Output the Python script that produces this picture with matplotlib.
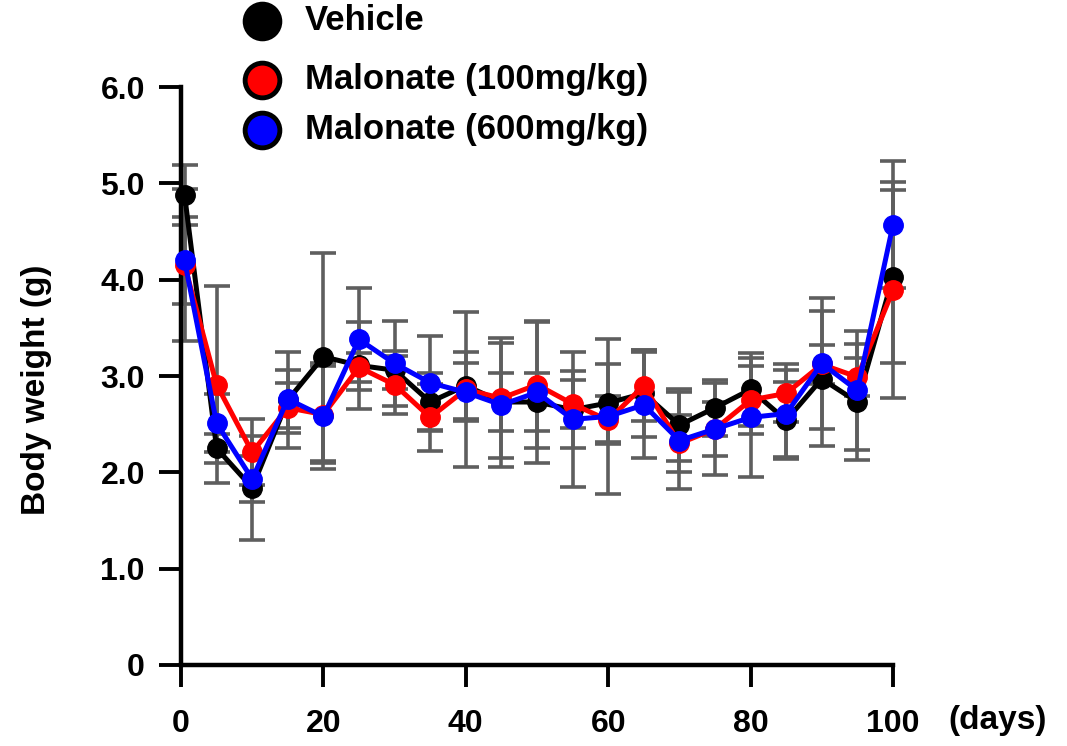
import matplotlib
matplotlib.use("Agg")
import matplotlib.pyplot as plt
from matplotlib.lines import Line2D

# Body weight over time, mean +/- SD
days = [0.5, 5, 10, 15, 20, 25, 30, 35, 40, 45, 50, 55, 60, 65, 70, 75, 80, 85, 90, 95, 100]

vehicle = [4.88, 2.25, 1.84, 2.75, 3.20, 3.11, 3.06, 2.73, 2.90, 2.73, 2.73, 2.65, 2.72,
           2.82, 2.49, 2.67, 2.86, 2.54, 2.97, 2.73, 4.03]
vehicle_sd = [0.31, 0.15, 0.54, 0.50, 1.08, 0.45, 0.20, 0.30, 0.35, 0.30, 0.30, 0.40, 0.40,
              0.45, 0.37, 0.29, 0.38, 0.40, 0.70, 0.60, 0.90]

mal100 = [4.15, 2.91, 2.21, 2.67, 2.60, 3.09, 2.91, 2.57, 2.86, 2.77, 2.91, 2.71, 2.54,
          2.90, 2.30, 2.45, 2.75, 2.82, 3.12, 2.99, 3.89]
mal100_sd = [0.79, 1.02, 0.34, 0.26, 0.50, 0.15, 0.30, 0.35, 0.80, 0.62, 0.66, 0.25, 0.25,
             0.37, 0.30, 0.28, 0.35, 0.30, 0.20, 0.20, 1.12]

mal600 = [4.20, 2.51, 1.93, 2.76, 2.58, 3.38, 3.13, 2.93, 2.83, 2.70, 2.83, 2.55, 2.58,
          2.70, 2.33, 2.45, 2.57, 2.61, 3.13, 2.85, 4.57]
mal600_sd = [0.45, 0.30, 0.24, 0.30, 0.55, 0.53, 0.44, 0.49, 0.30, 0.64, 0.73, 0.70, 0.80,
             0.55, 0.50, 0.48, 0.62, 0.45, 0.68, 0.62, 0.66]

labels = ["Vehicle", "Malonate (100mg/kg)", "Malonate (600mg/kg)"]
colors = ["#000000", "#ff0000", "#0000ff"]

y_ticks = [0, 1, 2, 3, 4, 5, 6]
y_tick_labels = ["0", "1.0", "2.0", "3.0", "4.0", "5.0", "6.0"]
x_ticks = [0, 20, 40, 60, 80, 100]

plt.rcParams['font.family'] = ['Liberation Sans', 'DejaVu Sans']
plt.rcParams['font.weight'] = 'bold'

W, H = 1067, 746
fig = plt.figure(figsize=(W / 100, H / 100), dpi=100)
ax = fig.add_axes([181 / W, 81 / H, 712 / W, 578 / H])

series = [(vehicle, vehicle_sd), (mal100, mal100_sd), (mal600, mal600_sd)]

# error bars first, all grey, behind the lines
for vals, sd in series:
    ax.errorbar(days, vals, yerr=sd, fmt='none', ecolor='#5e5e5e', elinewidth=2.6,
                capsize=9.5, capthick=2.6, zorder=2, clip_on=False)

for (vals, sd), c in zip(series, colors):
    ax.plot(days, vals, color=c, linewidth=3.6, marker='o', markersize=14,
            zorder=3, clip_on=False)

ax.set_xlim(0, 100)
ax.set_ylim(0, 6)
ax.set_xticks(x_ticks)
ax.set_yticks(y_ticks)
ax.set_yticklabels(y_tick_labels)
for side in ['top', 'right']:
    ax.spines[side].set_visible(False)
for side in ['left', 'bottom']:
    ax.spines[side].set_linewidth(3.2)
ax.tick_params(axis='both', direction='out', length=16, width=2.8, labelsize=23)
ax.tick_params(axis='x', pad=16)
ax.tick_params(axis='y', pad=10)
for lab in ax.get_xticklabels() + ax.get_yticklabels():
    lab.set_fontweight('bold')

fig.text(37 / W, 1 - 390 / H, "Body weight (g)", fontsize=24, fontweight='bold',
         rotation=90, ha='center', va='center')
fig.text(948 / W, 1 - 720 / H, "(days)", fontsize=24, fontweight='bold',
         va='center', ha='left')

# legend drawn by hand so the rows sit where the reference has them
legend_rows = [21, 80, 130]
for lab, c, yr in zip(labels, colors, legend_rows):
    fig.add_artist(Line2D([262 / W], [1 - yr / H], transform=fig.transFigure,
                          linestyle='none', marker='o', markersize=25,
                          markerfacecolor=c, markeredgecolor='black', markeredgewidth=3.5))
    fig.text(305 / W, 1 - yr / H, lab, fontsize=25, fontweight='bold',
             ha='left', va='center')

fig.savefig("out.png", dpi=100)
